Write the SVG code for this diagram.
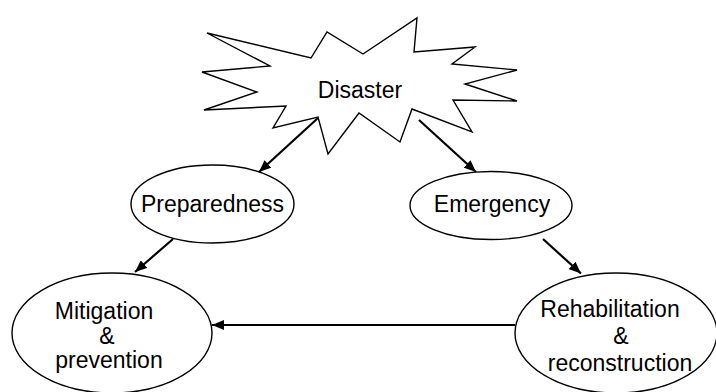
<svg xmlns="http://www.w3.org/2000/svg" width="716" height="392" viewBox="0 0 716 392">
<style>
.shape{fill:#fff;stroke:#000;stroke-width:1.4}
.lbl{font-family:"Liberation Sans",Arial,sans-serif;font-size:23px;fill:#000;text-anchor:middle}
.conn{stroke:#000;stroke-width:2.2;fill:none}
</style>
<defs>
<marker id="ah" viewBox="0 0 12 10" refX="12" refY="5" markerWidth="12" markerHeight="10" markerUnits="userSpaceOnUse" orient="auto">
<path d="M0,0 L12,5 L0,10 z" fill="#000"/>
</marker>
</defs>
<rect width="716" height="392" fill="#fff"/>
<g id="disaster">
<polygon class="shape" points="207,33 311,58 327,32 363,54 417,18 414,52 475,47 452,64 517,70 465,84 517,101 453,100 472,132 412,109 400,142 359,113 328,154 318,117 273,128 286,106 204,110 257,92 202,72 270,66"/>
<text class="lbl" x="360" y="98">Disaster</text>
</g>
<g id="preparedness">
<ellipse class="shape" cx="212.5" cy="204" rx="81.5" ry="39"/>
<text class="lbl" x="212.5" y="212">Preparedness</text>
</g>
<g id="emergency">
<ellipse class="shape" cx="491" cy="205.5" rx="81" ry="34"/>
<text class="lbl" x="492" y="212">Emergency</text>
</g>
<g id="mitigation">
<ellipse class="shape" cx="112" cy="333" rx="100" ry="60"/>
<text class="lbl" x="104" y="319">Mitigation</text>
<text class="lbl" x="107" y="344">&amp;</text>
<text class="lbl" x="109" y="368">prevention</text>
</g>
<g id="rehabilitation">
<ellipse class="shape" cx="616" cy="333" rx="101" ry="60"/>
<text class="lbl" x="610" y="317">Rehabilitation</text>
<text class="lbl" x="621" y="344">&amp;</text>
<text class="lbl" x="620" y="371">reconstruction</text>
</g>
<g id="connectors">
<line class="conn" x1="318" y1="118" x2="259" y2="172" marker-end="url(#ah)"/>
<line class="conn" x1="419" y1="120" x2="476" y2="172" marker-end="url(#ah)"/>
<line class="conn" x1="543" y1="239" x2="581" y2="273.5" marker-end="url(#ah)"/>
<line class="conn" x1="173" y1="239" x2="135" y2="272" marker-end="url(#ah)"/>
<line class="conn" x1="515" y1="325" x2="212" y2="325" marker-end="url(#ah)"/>
</g>
</svg>
